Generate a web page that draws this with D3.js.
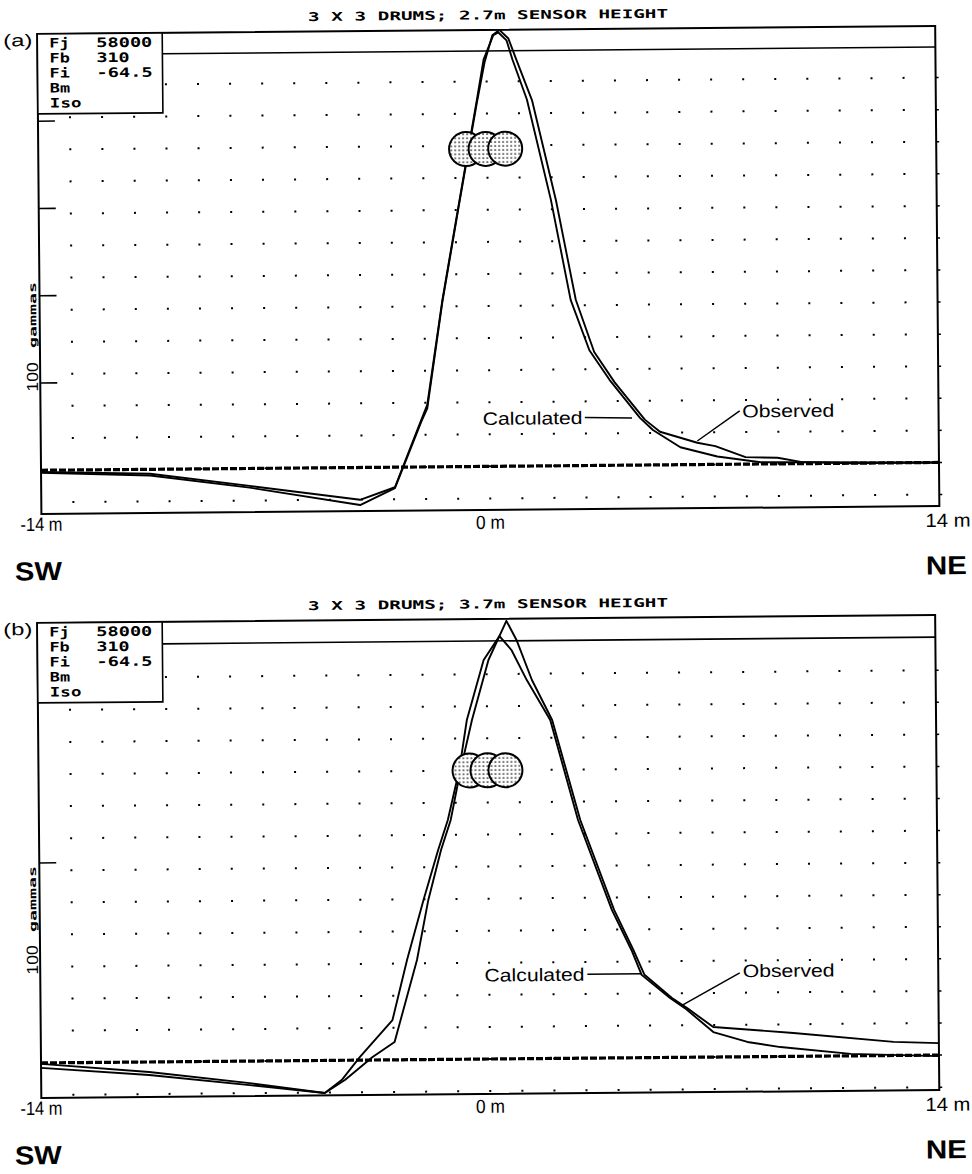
<!DOCTYPE html>
<html>
<head>
<meta charset="utf-8">
<script src="https://cdn.jsdelivr.net/npm/d3@7"></script>
<style>
  body { margin: 0; background: #fff; }
  svg { display: block; }
</style>
</head>
<body>
<svg id="chart" width="972" height="1174"></svg>
<script>
// ---- profile axis (metres along the SW–NE traverse) ----
const distanceTicks = [-14, 0, 14];
const distanceTickLabels = ["-14 m", "0 m", "14 m"];

// ---- model parameters listed in the corner box ----
const legendKeys = ["Fj", "Fb", "Fi", "Bm", "Iso"];
const legendValues = ["58000", "310", "-64.5", "", ""];

const panelTitles = ["3 X 3 DRUMS; 2.7m SENSOR HEIGHT", "3 X 3 DRUMS; 3.7m SENSOR HEIGHT"];
const panelLetters = ["(a)", "(b)"];

// ---- (a) 2.7 m sensor height: total-field anomaly, gammas ----
const calcA_m = [-14, -10.6, -7.5, -4.06, -2.97, -2.13, -1.94, -1.44, -0.88, -0.31, -0.09, 0.22, 0.38, 0.63, 0.81, 1.25, 1.97, 2.56, 3.13, 3.75, 4.69, 5.09, 5.94, 7.09, 8.44, 14];
const calcA_gamma = [-2, -5, -20, -37, -23, 54, 71, 191, 305, 420, 466, 494, 497, 488, 466, 420, 305, 190, 132, 98, 54, 40, 20, 9, 2, 0];
const obsA_m = [-14, -10.6, -7.5, -4.06, -2.97, -2.13, -1.94, -1.44, -0.88, -0.31, -0.06, 0.19, 0.41, 0.69, 0.94, 1.41, 2.13, 2.72, 3.28, 3.91, 4.84, 5.31, 6.47, 7.03, 7.97, 8.97, 9.69, 11.25, 14];
const obsA_gamma = [-3, -7, -22, -43, -24, 52, 67, 189, 303, 417, 463, 494, 500, 490, 465, 419, 304, 190, 130, 95, 52, 38, 25, 21, 8, 7, 2, 0, 0];

// ---- (b) 3.7 m sensor height ----
const calcB_m = [-14, -10.63, -7.5, -5.16, -4.63, -4.06, -3.03, -2.56, -2.03, -1.56, -1.25, -0.88, -0.63, -0.09, 0.41, 0.78, 1.25, 1.97, 2.81, 3.84, 4.44, 4.75, 5.63, 6.09, 6.97, 8.03, 9.06, 11.25, 14];
const calcB_gamma = [-0.5, -5, -11, -16.3, -9.9, 1.5, 19.9, 49.9, 79.8, 104.7, 119.7, 144.6, 169.6, 199.5, 211.4, 204.4, 189.3, 169.2, 119.1, 74, 53.9, 41.4, 29.7, 24.6, 12.5, 7.4, 4.7, 1, -0.5];
const obsB_m = [-14, -10.63, -7.5, -5.16, -4.53, -3.66, -2.97, -2.25, -1.88, -1.47, -1.16, -0.84, -0.47, 0.06, 0.63, 0.94, 1.41, 2.03, 2.88, 3.91, 4.5, 4.84, 5.69, 6.16, 6.97, 9.47, 12.59, 14];
const obsB_gamma = [-2.5, -6.5, -12, -16.3, -9.9, 1.5, 8.9, 49.8, 79.8, 104.7, 119.7, 144.6, 169.6, 199.5, 219, 209.4, 189.3, 169.2, 119.1, 74, 53.9, 41.4, 29.7, 24.6, 15, 11.7, 6.8, 6];

// ---- buried drums (centre along profile, m; plotted height on the 1 m grid) ----
const drumsA_m = [-0.66, -0.05, 0.56];
const drumsA_level = 9.9;
const drumsB_m = [-0.56, 0.0, 0.56];
const drumsB_level = 9.0;

// level of the upper reference line, gammas
const refLevelA = 476;
const refLevelB = 209;

const zip = (a, b) => a.map((v, i) => [v, b[i]]);

const panels = [
  {
    letter: panelLetters[0], title: panelTitles[0],
    calc: zip(calcA_m, calcA_gamma), obs: zip(obsA_m, obsA_gamma),
    yDomain: [-50, 500], top: 30, bottom: 510,
    refLevel: refLevelA, drums: drumsA_m, drumLevel: drumsA_level,
    calcText: [2.9, 55], calcLeader: [[2.97, 55], [4.44, 54]],
    obsText: [7.88, 61], obsLeader: [[7.8, 61], [6.47, 27]],
    unitLabel100: 373, unitLabelName: 311
  },
  {
    letter: panelLetters[1], title: panelTitles[1],
    calc: zip(calcB_m, calcB_gamma), obs: zip(obsB_m, obsB_gamma),
    yDomain: [-17.5, 220], top: 619, bottom: 1094,
    refLevel: refLevelB, drums: drumsB_m, drumLevel: drumsB_level,
    calcText: [2.97, 42], calcLeader: [[3.06, 42], [4.75, 42]],
    obsText: [7.9, 43], obsLeader: [[7.81, 42], [6.0, 26]],
    unitLabel100: 956, unitLabelName: 895
  }
];

const svg = d3.select("#chart");
svg.append("rect").attr("width", 972).attr("height", 1174).attr("fill", "#fff");

// stippled fill for the drums
const defs = svg.append("defs");
const stipple = defs.append("pattern")
  .attr("id", "stipple").attr("patternUnits", "userSpaceOnUse")
  .attr("width", 4).attr("height", 4);
stipple.append("rect").attr("width", 4).attr("height", 4).attr("fill", "#fff");
stipple.append("circle").attr("cx", 2).attr("cy", 2).attr("r", 0.85).attr("fill", "#000");

const frameLeft = 41, frameRight = 939;
const x = d3.scaleLinear().domain([-14, 14]).range([frameLeft, frameRight]);
const pxPerMetre = x(1) - x(0);

const pixelFont = "'DejaVu Sans Mono', monospace";
const sansFont = "'Liberation Sans', Arial, sans-serif";

panels.forEach(p => {
  const y = d3.scaleLinear().domain(p.yDomain).range([p.bottom, p.top]);
  const y0 = y(0);
  // the plotter sheet sits very slightly skewed
  const g = svg.append("g").attr("transform", `rotate(-0.5, ${x(0)}, ${y0})`);

  // 1 m dot grid, rows counted from the zero line
  const grid = d3.scaleLinear().domain([0, 1]).range([y0, y0 - pxPerMetre]);
  const rows = d3.range(-1, 20).filter(k => grid(k) > p.top + 30 && grid(k) < p.bottom - 1);
  const cols = d3.range(-13, 14);
  const dots = [];
  rows.forEach(r => cols.forEach(c => dots.push([c, r])));
  g.append("g").selectAll("rect").data(dots).join("rect")
    .attr("x", d => x(d[0]) - 1).attr("y", d => grid(d[1]) - 1)
    .attr("width", 2).attr("height", 2).attr("fill", "#000");

  // small outward ticks on the right edge at each grid row
  g.append("g").selectAll("line").data(rows).join("line")
    .attr("x1", frameRight).attr("x2", frameRight + 3)
    .attr("y1", d => grid(d)).attr("y2", d => grid(d))
    .attr("stroke", "#000").attr("stroke-width", 1.5);

  // 100-gamma ticks on the left edge
  const yTicks = d3.range(100, p.yDomain[1], 100);
  g.append("g").selectAll("line").data(yTicks).join("line")
    .attr("x1", frameLeft).attr("x2", frameLeft + 17)
    .attr("y1", d => y(d)).attr("y2", d => y(d))
    .attr("stroke", "#000").attr("stroke-width", 1.6);

  // dashed zero line
  g.append("line")
    .attr("x1", frameLeft).attr("x2", frameRight)
    .attr("y1", y0).attr("y2", y0)
    .attr("stroke", "#000").attr("stroke-width", 3.2)
    .attr("stroke-dasharray", "7,2");

  // frame
  g.append("rect")
    .attr("x", frameLeft).attr("y", p.top)
    .attr("width", frameRight - frameLeft).attr("height", p.bottom - p.top)
    .attr("fill", "none").attr("stroke", "#000").attr("stroke-width", 2);

  // upper reference line
  g.append("line")
    .attr("x1", frameLeft + 125).attr("x2", frameRight)
    .attr("y1", y(p.refLevel)).attr("y2", y(p.refLevel))
    .attr("stroke", "#000").attr("stroke-width", 1.6);

  // profiles
  const line = d3.line().x(d => x(d[0])).y(d => y(d[1]));
  g.append("path").datum(p.obs).attr("d", line)
    .attr("fill", "none").attr("stroke", "#000").attr("stroke-width", 1.9)
    .attr("stroke-linejoin", "round");
  g.append("path").datum(p.calc).attr("d", line)
    .attr("fill", "none").attr("stroke", "#000").attr("stroke-width", 1.9)
    .attr("stroke-linejoin", "round");

  // drums
  const drumR = 0.53 * pxPerMetre;
  g.append("g").selectAll("circle").data(p.drums).join("circle")
    .attr("cx", d => x(d)).attr("cy", grid(p.drumLevel)).attr("r", drumR)
    .attr("fill", "url(#stipple)").attr("stroke", "#000").attr("stroke-width", 2);

  // leaders and curve labels
  const leader = d3.line().x(d => x(d[0])).y(d => y(d[1]));
  [p.calcLeader, p.obsLeader].forEach(l => {
    g.append("path").attr("d", leader(l))
      .attr("fill", "none").attr("stroke", "#000").attr("stroke-width", 1.5);
  });
  g.append("text").text("Calculated")
    .attr("x", x(p.calcText[0])).attr("y", y(p.calcText[1]))
    .attr("dy", "0.36em").attr("text-anchor", "end")
    .attr("font-family", sansFont).attr("font-size", 18)
    .attr("textLength", 100).attr("lengthAdjust", "spacingAndGlyphs");
  g.append("text").text("Observed")
    .attr("x", x(p.obsText[0])).attr("y", y(p.obsText[1]))
    .attr("dy", "0.36em").attr("text-anchor", "start")
    .attr("font-family", sansFont).attr("font-size", 18)
    .attr("textLength", 92).attr("lengthAdjust", "spacingAndGlyphs");

  // parameter box
  g.append("rect")
    .attr("x", frameLeft).attr("y", p.top)
    .attr("width", 125).attr("height", 80)
    .attr("fill", "#fff").attr("stroke", "#000").attr("stroke-width", 1.6);
  const rowY = i => p.top + 9 + i * 15;
  legendKeys.forEach((k, i) => {
    g.append("text").text(k)
      .attr("x", 53).attr("y", rowY(i)).attr("dy", "0.36em")
      .attr("font-family", pixelFont).attr("font-weight", "bold").attr("font-size", 13)
      .attr("textLength", k.length * 11.2 - 2).attr("lengthAdjust", "spacingAndGlyphs");
    if (legendValues[i]) {
      g.append("text").text(legendValues[i])
        .attr("x", 100).attr("y", rowY(i)).attr("dy", "0.36em")
        .attr("font-family", pixelFont).attr("font-weight", "bold").attr("font-size", 13)
        .attr("textLength", legendValues[i].length * 11.4 - 1).attr("lengthAdjust", "spacingAndGlyphs");
    }
  });

  // title
  g.append("text").text(p.title)
    .attr("x", 492).attr("y", p.top - 15).attr("dy", "0.36em")
    .attr("text-anchor", "middle")
    .attr("font-family", pixelFont).attr("font-weight", "bold").attr("font-size", 12)
    .attr("textLength", 360).attr("lengthAdjust", "spacingAndGlyphs");

  // panel letter
  g.append("text").text(p.letter)
    .attr("x", 7).attr("y", p.top + 6).attr("dy", "0.36em")
    .attr("font-family", sansFont).attr("font-size", 17)
    .attr("textLength", 29).attr("lengthAdjust", "spacingAndGlyphs");

  // vertical unit label
  g.append("text").text("100")
    .attr("transform", `translate(33, ${p.unitLabel100}) rotate(-90)`)
    .attr("text-anchor", "middle").attr("dy", "0.36em")
    .attr("font-family", sansFont).attr("font-size", 16)
    .attr("textLength", 29).attr("lengthAdjust", "spacingAndGlyphs");
  g.append("text").text("gammas")
    .attr("transform", `translate(34, ${p.unitLabelName}) rotate(-90)`)
    .attr("text-anchor", "middle").attr("dy", "0.36em")
    .attr("font-family", pixelFont).attr("font-weight", "bold").attr("font-size", 10)
    .attr("textLength", 66).attr("lengthAdjust", "spacingAndGlyphs");

  // distance labels
  const anchors = ["start", "middle", "end"];
  const lengths = [42, 29, 45];
  const xPos = [20, x(0), 970];
  const yOff = [10, 12, 14];
  distanceTicks.forEach((t, i) => {
    g.append("text").text(distanceTickLabels[i])
      .attr("x", xPos[i]).attr("y", p.bottom + yOff[i]).attr("dy", "0.36em")
      .attr("text-anchor", anchors[i])
      .attr("font-family", sansFont).attr("font-size", 19)
      .attr("textLength", lengths[i]).attr("lengthAdjust", "spacingAndGlyphs");
  });

  // compass directions
  g.append("text").text("SW")
    .attr("x", 14).attr("y", p.bottom + 57).attr("dy", "0.36em")
    .attr("font-family", sansFont).attr("font-weight", "bold").attr("font-size", 26)
    .attr("textLength", 47).attr("lengthAdjust", "spacingAndGlyphs");
  g.append("text").text("NE")
    .attr("x", 966).attr("y", p.bottom + 59).attr("dy", "0.36em")
    .attr("text-anchor", "end")
    .attr("font-family", sansFont).attr("font-weight", "bold").attr("font-size", 26)
    .attr("textLength", 41).attr("lengthAdjust", "spacingAndGlyphs");
});
</script>
</body>
</html>
